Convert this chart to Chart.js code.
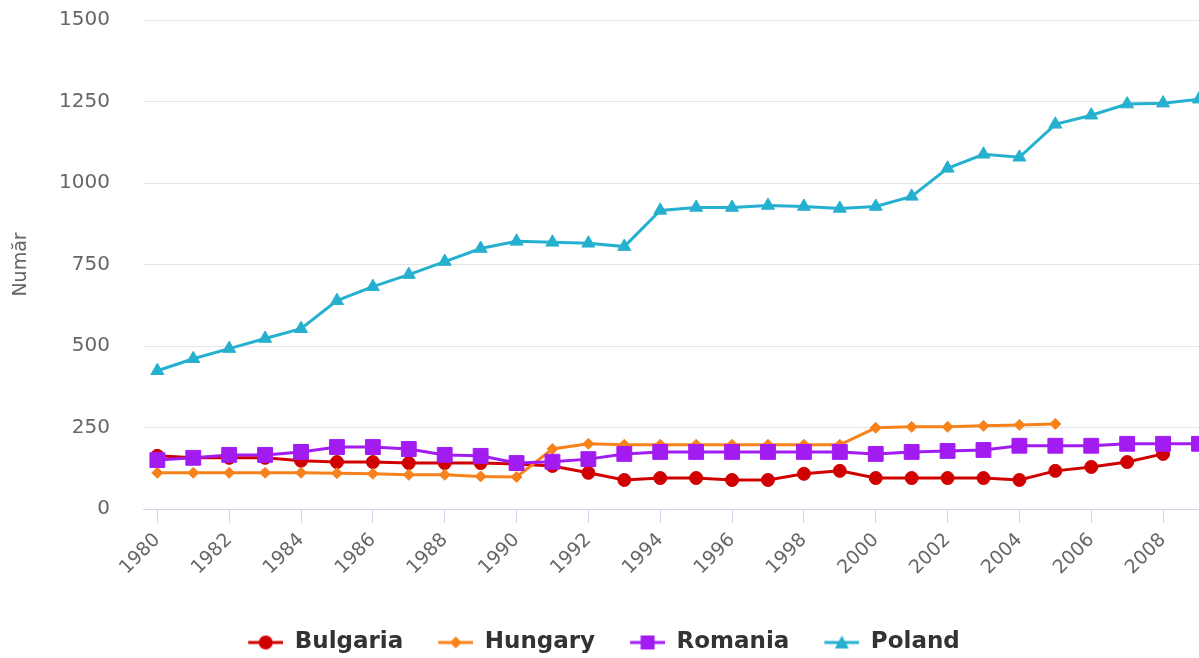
<!DOCTYPE html>
<html>
<head>
<meta charset="utf-8">
<script src="https://cdn.jsdelivr.net/npm/chart.js@4"></script>
<style>
  html,body{margin:0;padding:0;background:#fff;}
  #wrap{width:1199px;height:658px;}
</style>
</head>
<body>
<div id="wrap"><canvas id="chart" width="1199" height="658"></canvas></div>
<script>
/* ---------- данные ---------- */
const years = [1980,1981,1982,1983,1984,1985,1986,1987,1988,1989,
               1990,1991,1992,1993,1994,1995,1996,1997,1998,1999,
               2000,2001,2002,2003,2004,2005,2006,2007,2008,2009];
const bulgaria = [163,157,157,157,148,144,144,141,141,141,
                  138,132,111,89,95,95,89,89,108,117,
                  95,95,95,95,89,117,129,144,169,null];
const hungary  = [111,111,111,111,111,110,108,105,105,100,
                  98,184,200,197,197,197,197,197,197,197,
                  249,252,252,255,258,261,null,null,null,null];
const romania  = [150,157,166,166,175,190,190,184,166,163,
                  141,145,153,169,175,175,175,175,175,175,
                  169,175,178,181,194,194,194,200,200,200];
const poland   = [424,461,492,523,553,639,682,719,759,799,
                  821,818,815,805,916,925,925,931,928,922,
                  928,959,1045,1088,1079,1180,1208,1242,1245,1257];
const yTicks = [0,250,500,750,1000,1250,1500];
const yTitle = 'Număr';

/* ---------- серии ---------- */
const series = [
  {label:'Bulgaria', data:bulgaria, color:'#d00000', style:'circle',   r:6.5,  order:4},
  {label:'Hungary',  data:hungary,  color:'#f7821b', style:'rectRot',  r:5.5,  order:3},
  {label:'Romania',  data:romania,  color:'#a21cf2', style:'rect',     r:10.5, order:2},
  {label:'Poland',   data:poland,   color:'#26b0cf', style:'triangle', r:7.5,  order:1}
];

// значок легенды: отступ слева + линия + маркер
const ICON_W = 64, LEAD = 29;
function legendIcon(color, style){
  const c = document.createElement('canvas');
  c.width = ICON_W; c.height = 18;
  const g = c.getContext('2d');
  const cx = LEAD + (ICON_W - LEAD)/2;
  g.strokeStyle = color; g.fillStyle = color; g.lineWidth = 3;
  g.beginPath(); g.moveTo(LEAD,9); g.lineTo(ICON_W,9); g.stroke();
  g.beginPath();
  if(style==='circle'){ g.arc(cx,9,7,0,Math.PI*2); }
  else if(style==='rectRot'){ g.moveTo(cx,3); g.lineTo(cx+6,9); g.lineTo(cx,15); g.lineTo(cx-6,9); g.closePath(); }
  else if(style==='rect'){ g.rect(cx-7,2,14,14); }
  else { g.moveTo(cx,2); g.lineTo(cx+7,15); g.lineTo(cx-7,15); g.closePath(); }
  g.fill();
  return c;
}

const datasets = series.map(s => ({
  label: s.label,
  data: years.map((y,i) => ({x:y, y:s.data[i]})),
  borderColor: s.color,
  backgroundColor: s.color,
  pointBackgroundColor: s.color,
  pointBorderColor: s.color,
  pointBorderWidth: 1,
  pointStyle: s.style,
  pointRadius: s.r,
  borderWidth: 3,
  tension: 0,
  order: s.order,
  icon: legendIcon(s.color, s.style)
}));

const tickFont = {family:'DejaVu Sans', size:20};

// легенду чуть левее, как в оригинале
const shiftLegend = {
  id: 'shiftLegend',
  afterLayout: chart => { chart.legend.left -= 15; chart.legend.right -= 15; }
};

new Chart(document.getElementById('chart').getContext('2d'), {
  type: 'line',
  data: {datasets},
  plugins: [shiftLegend],
  options: {
    responsive: false,
    animation: false,
    layout: {autoPadding:false, padding:{left:10, right:0, top:20, bottom:-6}},
    plugins: {
      tooltip: {enabled:false},
      legend: {
        position: 'bottom',
        labels: {
          usePointStyle: true,
          pointStyleWidth: ICON_W,
          padding: 6,
          color: '#333',
          font: {family:'DejaVu Sans', size:23, weight:'bold'},
          sort: (a,b) => a.datasetIndex - b.datasetIndex,
          generateLabels: chart => {
            const items = Chart.defaults.plugins.legend.labels.generateLabels(chart);
            items.forEach(it => { it.pointStyle = chart.data.datasets[it.datasetIndex].icon; });
            return items;
          }
        }
      }
    },
    scales: {
      x: {
        type: 'linear',
        min: 1979.6,
        max: 2009,
        afterBuildTicks: axis => {
          axis.ticks = years.filter(y => y % 2 === 0).map(v => ({value:v}));
        },
        afterFit: axis => {
          axis.height = 116;
          axis.paddingLeft = 0; axis.paddingRight = 0;
        },
        grid: {drawOnChartArea:false, tickLength:14, color:'#ccd6eb'},
        border: {display:true, color:'#ccd6eb', width:1},
        ticks: {
          callback: v => String(v),
          color: '#666',
          font: {family:'DejaVu Sans', size:19},
          maxRotation: 45,
          minRotation: 45,
          padding: 6,
          autoSkip: false
        }
      },
      y: {
        min: 0,
        max: 1500,
        afterBuildTicks: axis => { axis.ticks = yTicks.map(v => ({value:v})); },
        afterFit: axis => {
          axis.width = 133;
          axis.paddingTop = 0; axis.paddingBottom = 0;
        },
        grid: {color:'#e6e6e6', drawTicks:false},
        border: {display:false},
        ticks: {callback: v => String(v), color:'#666', font:tickFont, padding:33},
        title: {display:true, text:yTitle, color:'#666', font:{family:'DejaVu Sans', size:19}, padding:{top:0,bottom:4}}
      }
    }
  }
});
</script>
</body>
</html>
